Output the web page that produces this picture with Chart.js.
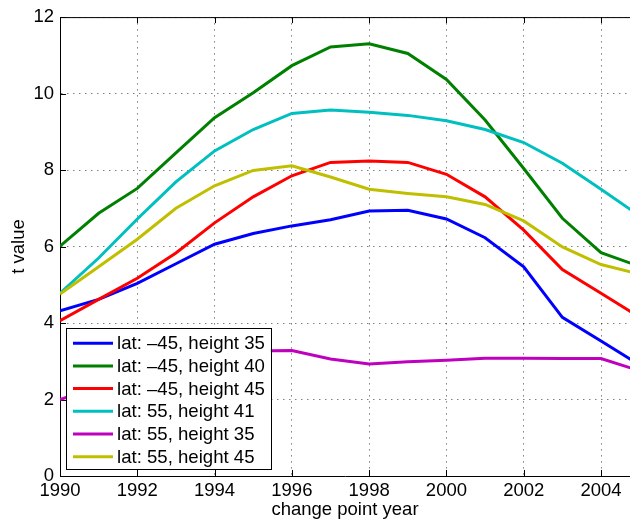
<!DOCTYPE html>
<html>
<head>
<meta charset="utf-8">
<script src="https://cdn.jsdelivr.net/npm/chart.js@4/dist/chart.umd.min.js"></script>
<style>
  html, body { margin: 0; padding: 0; background: #fff; }
  #chart { display: block; }
</style>
</head>
<body>
<canvas id="chart" width="630" height="519"></canvas>
<script>
// change point years (last one falls just outside the visible axis)
const years = [1990, 1991, 1992, 1993, 1994, 1995, 1996, 1997, 1998, 1999, 2000, 2001, 2002, 2003, 2004, 2005];

const latM45h35 = [4.32, 4.62, 5.04, 5.55, 6.06, 6.34, 6.54, 6.70, 6.93, 6.95, 6.72, 6.23, 5.47, 4.15, 3.53, 2.90];
const latM45h40 = [6.01, 6.87, 7.52, 8.45, 9.37, 10.02, 10.73, 11.22, 11.30, 11.05, 10.37, 9.31, 8.04, 6.74, 5.84, 5.48];
const latM45h45 = [4.06, 4.62, 5.17, 5.83, 6.62, 7.30, 7.85, 8.20, 8.24, 8.20, 7.89, 7.30, 6.43, 5.40, 4.78, 4.15];
const lat55h41 = [4.78, 5.70, 6.72, 7.69, 8.50, 9.06, 9.48, 9.57, 9.51, 9.43, 9.29, 9.06, 8.72, 8.18, 7.50, 6.80];
const lat55h35 = [2.00, 2.35, 2.65, 2.90, 3.10, 3.27, 3.28, 3.06, 2.93, 2.99, 3.03, 3.08, 3.08, 3.07, 3.07, 2.75];
const lat55h45 = [4.76, 5.47, 6.19, 7.00, 7.59, 7.99, 8.11, 7.82, 7.50, 7.39, 7.30, 7.10, 6.67, 5.99, 5.53, 5.28];

const seriesLabels = [
  "lat: \u201345, height 35",
  "lat: \u201345, height 40",
  "lat: \u201345, height 45",
  "lat: 55, height 41",
  "lat: 55, height 35",
  "lat: 55, height 45",
];
const seriesValues = [latM45h35, latM45h40, latM45h45, lat55h41, lat55h35, lat55h45];
const seriesColors = ["#0000ff", "#008000", "#ff0000", "#00bfbf", "#bf00bf", "#bfbf00"];

const xTicks = [1990, 1992, 1994, 1996, 1998, 2000, 2002, 2004];
const yTicks = [0, 2, 4, 6, 8, 10, 12];

const FONT = "'Liberation Sans', Arial, Helvetica, sans-serif";
Chart.defaults.font.family = FONT;
Chart.defaults.font.size = 18;
Chart.defaults.color = "#000";

// inward tick marks + top frame line, like the matlab axes
const axesFrame = {
  id: "axesFrame",
  beforeDatasetsDraw(chart) {
    const { ctx, chartArea, scales } = chart;
    const len = 6;
    ctx.save();
    ctx.strokeStyle = "#000";
    ctx.lineWidth = 1;
    ctx.beginPath();
    ctx.moveTo(chartArea.left, chartArea.top + 0.5);
    ctx.lineTo(chartArea.right, chartArea.top + 0.5);
    xTicks.forEach((v) => {
      const px = Math.round(scales.x.getPixelForValue(v)) + 0.5;
      ctx.moveTo(px, chartArea.bottom);
      ctx.lineTo(px, chartArea.bottom - len);
      ctx.moveTo(px, chartArea.top);
      ctx.lineTo(px, chartArea.top + len);
    });
    yTicks.forEach((v) => {
      const py = Math.round(scales.y.getPixelForValue(v)) + 0.5;
      ctx.moveTo(chartArea.left, py);
      ctx.lineTo(chartArea.left + len, py);
    });
    ctx.stroke();
    ctx.restore();
  },
};

// boxed legend in the lower left corner of the plot
const boxLegend = {
  id: "boxLegend",
  afterDraw(chart) {
    const { ctx, chartArea } = chart;
    const sets = chart.data.datasets;
    const rowH = 22.7;
    ctx.save();
    ctx.font = "18.6px " + FONT;
    const textW = Math.max(...sets.map((d) => ctx.measureText(d.label).width));
    const boxL = chartArea.left + 6;
    const boxB = chartArea.bottom - 7;
    const boxH = rowH * (sets.length - 1) + 27.6;
    const boxT = boxB - boxH;
    const boxW = 51 + textW + 6;
    ctx.fillStyle = "#fff";
    ctx.fillRect(boxL, boxT, boxW, boxH);
    ctx.strokeStyle = "#000";
    ctx.lineWidth = 1;
    ctx.strokeRect(Math.round(boxL) + 0.5, Math.round(boxT) + 0.5, Math.round(boxW), Math.round(boxH));
    ctx.textBaseline = "middle";
    ctx.textAlign = "left";
    sets.forEach((d, i) => {
      const cy = boxT + 15.3 + i * rowH;
      ctx.strokeStyle = d.borderColor;
      ctx.lineWidth = 3;
      ctx.beginPath();
      ctx.moveTo(boxL + 7, cy);
      ctx.lineTo(boxL + 47, cy);
      ctx.stroke();
      ctx.fillStyle = "#000";
      ctx.fillText(d.label, boxL + 51, cy + 1);
    });
    ctx.restore();
  },
};

const gridStyle = {
  color: "rgba(0,0,0,0.5)",
  lineWidth: 1,
  drawTicks: false,
};
const borderStyle = { display: true, color: "#000", width: 1, dash: [1.5, 4.5] };

new Chart(document.getElementById("chart"), {
  type: "line",
  data: {
    datasets: seriesValues.map((vals, i) => ({
      label: seriesLabels[i],
      data: years.map((yr, j) => ({ x: yr, y: vals[j] })),
      borderColor: seriesColors[i],
      backgroundColor: seriesColors[i],
      borderWidth: 3,
      pointRadius: 0,
      tension: 0,
      fill: false,
      order: -i, // later series drawn on top, as in the original
    })),
  },
  options: {
    responsive: false,
    animation: false,
    devicePixelRatio: 1,
    layout: { padding: { top: 17, right: 0, left: 0, bottom: 0 } },
    plugins: {
      legend: { display: false },
      tooltip: { enabled: false },
    },
    scales: {
      x: {
        type: "linear",
        min: 1990,
        max: 2004.75,
        afterFit: (scale) => { scale.height = 43; },
        afterBuildTicks: (scale) => { scale.ticks = xTicks.map((v) => ({ value: v })); },
        ticks: {
          padding: 4,
          font: { size: 18.5 },
          callback: (v) => String(v),
        },
        grid: gridStyle,
        border: borderStyle,
        title: {
          display: true,
          text: "change point year",
          font: { size: 18.5 },
          padding: { top: 0, bottom: -2 },
        },
      },
      y: {
        type: "linear",
        min: 0,
        max: 12,
        afterFit: (scale) => { scale.width = 60; },
        afterBuildTicks: (scale) => { scale.ticks = yTicks.map((v) => ({ value: v })); },
        ticks: {
          padding: 6,
          font: { size: 18.5 },
          callback: (v) => String(v),
        },
        grid: gridStyle,
        border: borderStyle,
        title: {
          display: true,
          text: "t value",
          font: { size: 18.5 },
          padding: { top: 8, bottom: 0 },
        },
      },
    },
  },
  plugins: [axesFrame, boxLegend],
});
</script>
</body>
</html>
